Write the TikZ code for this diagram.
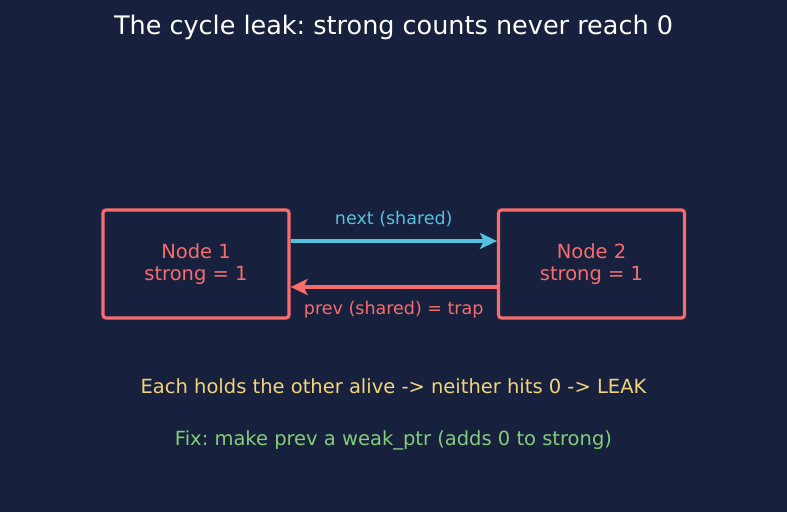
\documentclass[tikz,border=0pt]{standalone}
\usepackage{fontspec}
\setmainfont{DejaVu Sans}
\usetikzlibrary{arrows.meta,positioning}
\frenchspacing

\definecolor{bgnavy}{RGB}{23,33,62}
\definecolor{leakred}{RGB}{247,108,108}
\definecolor{linkcyan}{RGB}{86,192,224}
\definecolor{warnyellow}{RGB}{242,212,122}
\definecolor{fixgreen}{RGB}{132,204,120}

\begin{document}
\begin{tikzpicture}[
    x=1pt, y=-1pt,
    >={Stealth[length=17pt,width=16pt,inset=4pt]},
    obj/.style={rectangle, draw=leakred, line width=3.2pt, rounded corners=3pt,
                minimum width=186pt, minimum height=108pt, align=center,
                text=leakred, font=\fontsize{19.5}{22}\selectfont},
    lnk/.style={->, line width=3.5pt},
    lbl/.style={font=\fontsize{17.5}{20}\selectfont},
    note/.style={font=\fontsize{19.5}{22}\selectfont},
  ]

  %% background and page size
  \fill[bgnavy] (0,0) rectangle (787,512);
  \useasboundingbox (0,0) rectangle (787,512);

  %% title
  \node[text=white, font=\fontsize{25.5}{30}\selectfont] (title) at (393.5,27.5) {The cycle leak: strong counts never reach 0};

  %% ===== the two nodes =====
  \node[obj] (node1) at (196,264) {Node 1\\strong = 1};
  \node[obj] (node2) at (591.5,264) {Node 2\\strong = 1};

  %% ===== links =====
  %% next: node1 -> node2 (cyan)
  \draw[lnk, linkcyan] ([yshift=23pt]node1.east) -- ([yshift=23pt]node2.west)
    node[midway, above=9pt, lbl, text=linkcyan] {next (shared)};
  %% prev: node2 -> node1 (red)
  \draw[lnk, leakred] ([yshift=-23pt]node2.west) -- ([yshift=-23pt]node1.east)
    node[midway, below=9pt, lbl, text=leakred] {prev (shared) = trap};

  %% ===== notes =====
  \node[note, text=warnyellow] (why) at (393.5,386) {Each holds the other alive -> neither hits 0 -> LEAK};
  \node[note, text=fixgreen] (fix) at (393.5,440) {Fix: make prev a weak\_ptr (adds 0 to strong)};

\end{tikzpicture}
\end{document}
